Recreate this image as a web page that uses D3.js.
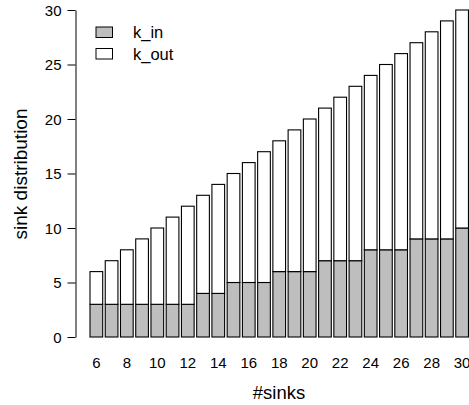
<!DOCTYPE html>
<meta charset="utf-8">
<head>
  <style>
    body { margin: 0; background: #fff; }
    svg { display: block; font-family: "Liberation Sans", Arial, sans-serif; }
    .axis path, .axis line { stroke: #000; }
    .axis text { font-size: 15px; fill: #000; }
  </style>
  <script src="https://d3js.org/d3.v7.min.js"></script>
</head>
<body>
  <svg width="469" height="405"></svg>
  <script>
    // number of sinks on the x axis
    var sinks = [6, 7, 8, 9, 10, 11, 12, 13, 14, 15, 16, 17, 18, 19, 20,
                 21, 22, 23, 24, 25, 26, 27, 28, 29, 30];
    var kIn  = [3, 3, 3, 3, 3, 3, 3, 4, 4, 5, 5, 5, 6, 6, 6,
                7, 7, 7, 8, 8, 8, 9, 9, 9, 10];
    var kOut = [3, 4, 5, 6, 7, 8, 9, 9, 10, 10, 11, 12, 12, 13, 14,
                14, 15, 16, 16, 17, 18, 18, 19, 20, 20];
    var yTicks = [0, 5, 10, 15, 20, 25, 30];
    var xLabels = [6, 8, 10, 12, 14, 16, 18, 20, 22, 24, 26, 28, 30];
    var seriesNames = ["k_in", "k_out"];
    var seriesFill = { k_in: "#bebebe", k_out: "#ffffff" };

    var svg = d3.select("svg");

    var rows = sinks.map(function(s, i) {
      return { sink: s, k_in: kIn[i], k_out: kOut[i] };
    });

    var stack = d3.stack().keys(seriesNames);
    var layers = stack(rows);

    var step = 15.24, pad = 0.2 / 1.2;
    var x = d3.scaleBand()
      .domain(sinks)
      .range([90, 90 + step * (sinks.length - pad)])
      .paddingInner(pad)
      .paddingOuter(0);

    var y = d3.scaleLinear().domain([0, 30]).range([337, 10]);

    // bars
    svg.append("g").selectAll("g")
      .data(layers)
      .enter().append("g")
      .attr("fill", function(d) { return seriesFill[d.key]; })
      .selectAll("rect")
      .data(function(d) { return d; })
      .enter().append("rect")
      .attr("x", function(d) { return x(d.data.sink); })
      .attr("y", function(d) { return y(d[1]); })
      .attr("width", x.bandwidth())
      .attr("height", function(d) { return y(d[0]) - y(d[1]); })
      .attr("stroke", "#000")
      .attr("stroke-width", 1.1);

    // y axis
    svg.append("g")
      .attr("class", "axis")
      .attr("transform", "translate(75.5,0)")
      .call(d3.axisLeft(y).tickValues(yTicks).tickSize(8).tickSizeOuter(0).tickPadding(6))
      .call(function(g) { g.selectAll("text").attr("dy", "0.35em"); });

    // x labels (no axis line, no ticks)
    var xa = svg.append("g")
      .attr("class", "axis")
      .attr("transform", "translate(0,357)")
      .call(d3.axisBottom(x).tickValues(xLabels).tickSize(0).tickPadding(0));
    xa.select(".domain").remove();
    xa.selectAll("text").attr("dy", "0.71em");

    // axis titles
    svg.append("text")
      .attr("x", 279)
      .attr("y", 399)
      .attr("text-anchor", "middle")
      .style("font-size", "18.5px")
      .text("#sinks");

    svg.append("text")
      .attr("transform", "translate(27,174) rotate(-90)")
      .attr("text-anchor", "middle")
      .style("font-size", "19px")
      .text("sink distribution");

    // legend
    var legend = svg.append("g").selectAll("g")
      .data(seriesNames)
      .enter().append("g")
      .attr("transform", function(d, i) { return "translate(96," + (27 + i * 21.5) + ")"; });

    legend.append("rect")
      .attr("width", 16.5)
      .attr("height", 10.5)
      .attr("fill", function(d) { return seriesFill[d]; })
      .attr("stroke", "#000");

    legend.append("text")
      .attr("x", 37)
      .attr("y", 5.25)
      .attr("dy", "0.35em")
      .style("font-size", "16.5px")
      .text(function(d) { return d; });
  </script>
</body>
